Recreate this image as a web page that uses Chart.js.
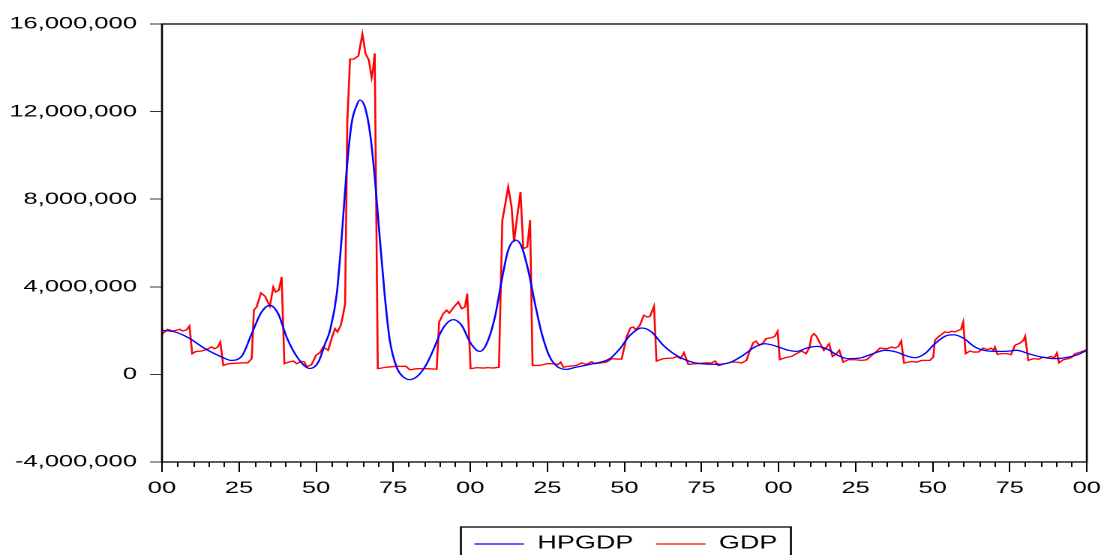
<!DOCTYPE html>
<html>
<head>
<meta charset="utf-8">
<script src="https://cdn.jsdelivr.net/npm/chart.js@4.4.1/dist/chart.umd.min.js"></script>
<style>
  html, body { margin: 0; padding: 0; background: #fff; overflow: hidden; }
  /* the original graph is a horizontally stretched EViews picture */
  #wrap { width: 740px; height: 555px; transform: scaleX(1.5); transform-origin: 0 0; }
</style>
</head>
<body>
<div id="wrap"><canvas id="chart-gdp"></canvas></div>
<script>
// x tick labels, one every 25 observations
const xTickLabels = ["00", "25", "50", "75", "00", "25", "50", "75", "00", "25", "50", "75", "00"];
const yTicks = [-4000000, 0, 4000000, 8000000, 12000000, 16000000];

// GDP (red) - observation index and value
const gdpObs = [0, 1.8, 3.7, 5.8, 6.6, 8, 8.9, 9.8, 10.9, 12.9, 14.5, 16.1, 17, 18.1, 18.9, 19.9, 21.5, 26.4, 27.8, 29.1,
  29.8, 30.7, 32.1, 33.4, 35, 36.1, 36.9, 37.9, 38.8, 39.7, 41, 42.6, 43.7, 45.3, 46.1, 47, 48.5, 50, 51.2, 52.3,
  53.9, 55, 56.1, 56.9, 58, 58.8, 59.4, 60.1, 61, 62.1, 63.7, 65, 66, 67.1, 68, 68.5, 69, 70, 72.9, 76.1,
  79.1, 80.4, 82.6, 85.9, 89.1, 89.9, 91.2, 92.3, 93.2, 94.7, 96.1, 97.2, 98.3, 99, 100.1, 102.1, 104.2, 105.8, 107.5, 109.3,
  110.4, 111.2, 112.3, 113.4, 114.2, 115.2, 116.3, 117.2, 118.5, 119.4, 120.2, 122.6, 124.8, 126.9, 128.5, 129.3, 130.2, 131.8, 134.5, 136.1,
  137.7, 139.4, 140.4, 142.1, 144.2, 145.9, 147.5, 149.1, 150.7, 152, 152.9, 153.7, 155, 156.3, 157.4, 158.3, 159.6, 160.4, 162.6, 165.9,
  167, 168.2, 169.3, 170.7, 173.4, 176.7, 178.3, 179.4, 180.5, 182.6, 184.8, 186.4, 188, 189.6, 190.5, 191.8, 192.7, 193.8, 195.1, 195.9,
  197.8, 198.8, 199.7, 200.4, 202.1, 204.2, 205.8, 207.5, 208.9, 210, 210.7, 211.5, 212.3, 213.4, 214.7, 215.6, 216.4, 217.5, 218.8, 219.7,
  221, 222.6, 224.8, 227, 228.6, 230.2, 231.8, 232.9, 235.1, 236.7, 237.8, 238.9, 239.8, 240.7, 242.1, 243.2, 244.8, 246.4, 249.1, 250.2,
  250.7, 251.8, 252.9, 254, 255.1, 256.2, 257.2, 258.3, 259.2, 259.9, 260.7, 262.1, 263.2, 264.8, 266.4, 267.9, 268.9, 269.7, 270.2, 271,
  272.3, 274, 275.4, 276.7, 278.3, 279.4, 280, 281, 282.7, 284.3, 285.9, 287, 288.4, 289.5, 290.3, 291, 292.4, 294.1, 295.2, 296.2,
  297.9, 299, 300];
const gdpValues = [1830000, 2060000, 1980000, 2060000, 1980000, 2040000, 2210000, 950000, 1040000, 1070000, 1140000, 1250000, 1170000, 1250000, 1480000, 410000, 490000, 530000, 530000, 720000,
  2930000, 3080000, 3720000, 3570000, 3110000, 3990000, 3760000, 3840000, 4450000, 490000, 560000, 610000, 490000, 590000, 580000, 350000, 450000, 880000, 990000, 1250000,
  1100000, 1630000, 2090000, 1940000, 2240000, 2770000, 3230000, 11500000, 14400000, 14390000, 14540000, 15540000, 14660000, 14350000, 13560000, 13970000, 14660000, 260000, 330000, 370000,
  370000, 210000, 260000, 260000, 240000, 2390000, 2770000, 2930000, 2800000, 3080000, 3310000, 3000000, 3080000, 3690000, 260000, 310000, 290000, 310000, 290000, 330000,
  7040000, 7650000, 8560000, 7650000, 6050000, 7190000, 8330000, 5740000, 5820000, 7040000, 410000, 410000, 490000, 490000, 450000, 560000, 330000, 370000, 410000, 520000,
  460000, 580000, 490000, 520000, 560000, 720000, 700000, 700000, 1710000, 2130000, 2160000, 2040000, 2240000, 2700000, 2620000, 2650000, 3110000, 610000, 720000, 750000,
  820000, 720000, 990000, 460000, 490000, 530000, 520000, 610000, 400000, 490000, 560000, 560000, 520000, 640000, 1020000, 1450000, 1520000, 1330000, 1450000, 1630000,
  1680000, 1740000, 1970000, 670000, 760000, 820000, 950000, 1070000, 950000, 1220000, 1740000, 1860000, 1740000, 1430000, 1100000, 1250000, 1400000, 820000, 950000, 1100000,
  560000, 670000, 670000, 640000, 670000, 870000, 1050000, 1200000, 1170000, 1250000, 1200000, 1280000, 1520000, 520000, 560000, 590000, 560000, 640000, 640000, 790000,
  1550000, 1710000, 1830000, 1940000, 1910000, 1970000, 1940000, 2010000, 2060000, 2390000, 950000, 1070000, 1020000, 1020000, 1200000, 1130000, 1200000, 1100000, 1250000, 910000,
  950000, 950000, 900000, 1330000, 1430000, 1550000, 1740000, 640000, 720000, 690000, 790000, 760000, 820000, 760000, 980000, 530000, 670000, 720000, 790000, 950000,
  1020000, 1070000, 1130000];

// HPGDP (blue) - Hodrick-Prescott trend
const hpObs = [0, 4.2, 8.5, 14, 19.4, 22.4, 25.8, 29.1, 32.3, 35, 37.7, 40.4, 44.2, 48, 50.7, 52.9, 54.5, 56.7, 58.3, 59.9,
  61.5, 63.2, 64.2, 65.8, 67.5, 69.1, 70.7, 72.3, 73.9, 76.1, 78.3, 80.4, 83.1, 85.9, 89.1, 90.2, 92.3, 94.5, 97.2, 99.9,
  102.1, 103.1, 105.3, 108, 110.2, 112.3, 114.8, 116.7, 118.8, 121, 123.2, 125.8, 128.5, 131.3, 133.4, 139.9, 145.3, 148.5, 151.8, 155.6,
  158.8, 162.6, 165.9, 170.2, 174.5, 179.9, 184.2, 188.5, 192.3, 195.6, 199.4, 203.2, 205.8, 209.1, 212.3, 215.6, 218.8, 222.6, 226.4, 230.7,
  234.5, 238.3, 241, 244.2, 247.5, 250.7, 254, 256.7, 259.9, 263.7, 268, 273.4, 277.2, 281, 285.3, 289.6, 294.1, 297.2, 300];
const hpValues = [2010000, 1940000, 1680000, 1170000, 790000, 640000, 820000, 1860000, 2850000, 3150000, 2770000, 1710000, 720000, 270000, 560000, 1400000, 2010000, 3690000, 6280000, 9330000,
  11460000, 12300000, 12530000, 12220000, 11000000, 8870000, 6130000, 3530000, 1550000, 330000, -120000, -240000, -50000, 490000, 1480000, 1860000, 2320000, 2500000, 2240000, 1480000,
  1100000, 1050000, 1400000, 2620000, 4300000, 5670000, 6130000, 5820000, 4750000, 3230000, 1860000, 790000, 330000, 230000, 300000, 490000, 720000, 1170000, 1780000, 2120000,
  1940000, 1330000, 950000, 640000, 490000, 460000, 540000, 870000, 1250000, 1400000, 1280000, 1100000, 1050000, 1200000, 1280000, 1170000, 900000, 720000, 750000, 950000,
  1100000, 1020000, 870000, 760000, 950000, 1400000, 1740000, 1810000, 1660000, 1250000, 1070000, 1050000, 1100000, 950000, 790000, 720000, 790000, 910000, 1100000];

const seriesLabels = ["HPGDP", "GDP"];
const FONT = '"Liberation Sans", Arial, sans-serif';

function toPoints(xs, ys) {
  return xs.map(function (x, i) {
    return { x: x, y: ys[i] };
  });
}

// box around the plot + small ticks every 5 obs
const frame = {
  id: "frame",
  afterDraw(chart) {
    const ctx = chart.ctx;
    const a = chart.chartArea;
    const xs = chart.scales.x;
    ctx.save();
    ctx.strokeStyle = "#000";
    ctx.lineWidth = 1.3;
    ctx.strokeRect(a.left, a.top, a.right - a.left, a.bottom - a.top);
    ctx.lineWidth = 1;
    ctx.beginPath();
    for (let v = 0; v <= 300; v += 5) {
      if (v % 25 === 0) continue;
      const px = Math.round(xs.getPixelForValue(v)) + 0.5;
      ctx.moveTo(px, a.bottom);
      ctx.lineTo(px, a.bottom + 5);
    }
    ctx.stroke();
    ctx.restore();
  },
};

// boxed legend under the x axis, like the EViews one
const boxLegend = {
  id: "boxLegend",
  afterDraw(chart) {
    const ctx = chart.ctx;
    const a = chart.chartArea;
    const sets = chart.data.datasets;
    const lineLen = 33, gap = 9, itemGap = 15, pad = 9;
    ctx.save();
    ctx.font = "18px " + FONT;
    let total = 0;
    const widths = sets.map(function (d) {
      return ctx.measureText(d.label).width;
    });
    widths.forEach(function (w, i) {
      total += lineLen + gap + w + (i > 0 ? itemGap : 0);
    });
    let x = (a.left + a.right) / 2 - total / 2 + 1;
    ctx.strokeStyle = "#000";
    ctx.lineWidth = 1.3;
    ctx.strokeRect(x - pad, 527, total + pad * 2, 60);
    sets.forEach(function (d, i) {
      ctx.strokeStyle = d.borderColor;
      ctx.lineWidth = 1.3;
      ctx.beginPath();
      ctx.moveTo(x, 544);
      ctx.lineTo(x + lineLen, 544);
      ctx.stroke();
      ctx.fillStyle = "#000";
      ctx.textBaseline = "alphabetic";
      ctx.fillText(d.label, x + lineLen + gap, 548.5);
      x += lineLen + gap + widths[i] + itemGap;
    });
    ctx.restore();
  },
};

const ctx = document.getElementById("chart-gdp").getContext("2d");
new Chart(ctx, {
  type: "line",
  data: {
    datasets: [
      {
        label: seriesLabels[0],
        data: toPoints(hpObs, hpValues),
        borderColor: "#0000ff",
        borderWidth: 1.3,
        pointRadius: 0,
        cubicInterpolationMode: "monotone",
        fill: false,
      },
      {
        label: seriesLabels[1],
        data: toPoints(gdpObs, gdpValues),
        borderColor: "#ff0000",
        borderWidth: 1.3,
        pointRadius: 0,
        tension: 0,
        fill: false,
      },
    ],
  },
  options: {
    responsive: true,
    maintainAspectRatio: false,
    animation: false,
    devicePixelRatio: 2,
    layout: {
      padding: { left: 0, right: 15.3, top: 24, bottom: 53 },
    },
    plugins: {
      legend: { display: false },
      tooltip: { enabled: false },
    },
    scales: {
      x: {
        type: "linear",
        min: 0,
        max: 300,
        afterFit(scale) {
          scale.height = 40;
        },
        afterBuildTicks(scale) {
          scale.ticks = xTickLabels.map(function (l, i) {
            return { value: i * 25 };
          });
        },
        border: { display: true, color: "#000", width: 1 },
        grid: {
          display: true,
          drawOnChartArea: false,
          drawTicks: true,
          tickLength: 10,
          color: "#000",
        },
        ticks: {
          color: "#000",
          padding: 6,
          maxRotation: 0,
          autoSkip: false,
          font: { size: 17, family: FONT },
          callback: function (value) {
            return xTickLabels[Math.round(value / 25)];
          },
        },
      },
      y: {
        min: -4000000,
        max: 16000000,
        afterFit(scale) {
          scale.width = 108;
        },
        afterBuildTicks(scale) {
          scale.ticks = yTicks.map(function (v) {
            return { value: v };
          });
        },
        border: { display: true, color: "#000", width: 1 },
        grid: {
          display: true,
          drawOnChartArea: false,
          drawTicks: true,
          tickLength: 8,
          color: "#333",
        },
        ticks: {
          color: "#000",
          padding: 8.7,
          font: { size: 17, family: FONT },
          callback: function (value) {
            return value.toLocaleString("en-US");
          },
        },
      },
    },
  },
  plugins: [frame, boxLegend],
});
</script>
</body>
</html>
